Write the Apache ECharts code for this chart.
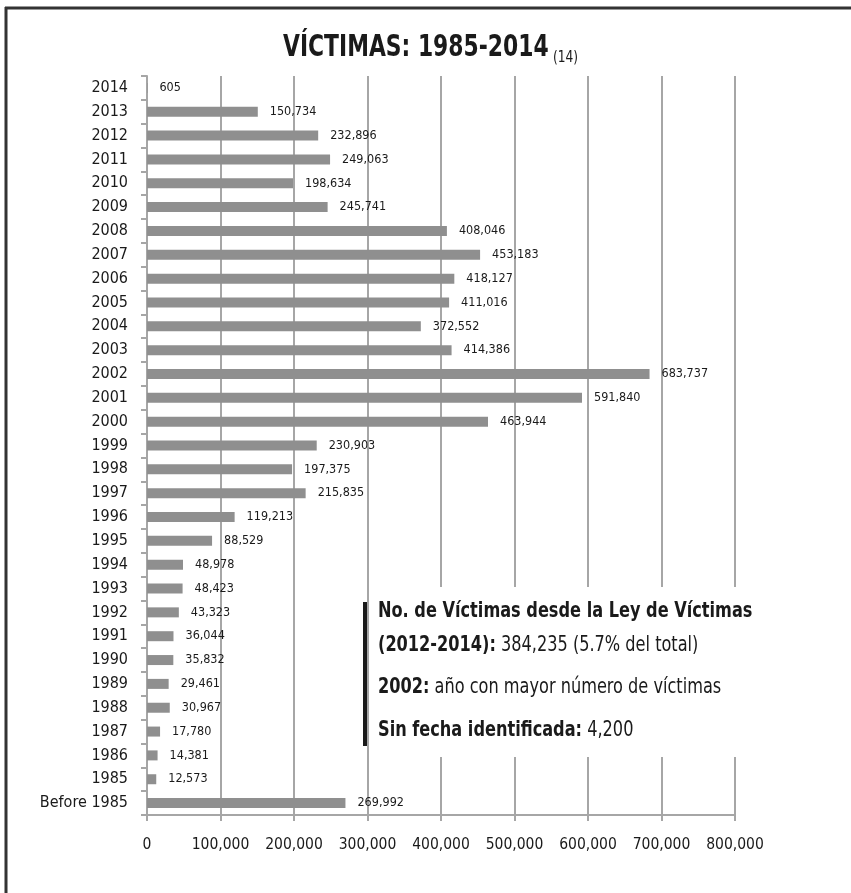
<!DOCTYPE html>
<html>
<head>
<meta charset="utf-8">
<script src="https://cdn.jsdelivr.net/npm/echarts@6/dist/echarts.min.js"></script>
<style>
html,body{margin:0;padding:0;background:#fff;}
#c{width:851px;height:893px;}
</style>
</head>
<body>
<div id="c"></div>
<script>
const categories = ["2014","2013","2012","2011","2010","2009","2008","2007","2006","2005","2004","2003","2002","2001","2000","1999","1998","1997","1996","1995","1994","1993","1992","1991","1990","1989","1988","1987","1986","1985","Before 1985"];
const victims = [605,150734,232896,249063,198634,245741,408046,453183,418127,411016,372552,414386,683737,591840,463944,230903,197375,215835,119213,88529,48978,48423,43323,36044,35832,29461,30967,17780,14381,12573,269992];
const xTicks = [0,100000,200000,300000,400000,500000,600000,700000,800000];
const titleText = "VÍCTIMAS: 1985-2014";
const titleNote = "(14)";

const FONT = "'Liberation Sans Narrow','Arial Narrow','DejaVu Sans Condensed',sans-serif";
const fmt = v => v.toLocaleString('en-US');
const GRID = '#a6a6a6';
const INK = '#1a1a1a';

const chart = echarts.init(document.getElementById('c'), null, {renderer:'canvas'});
const noteRich = {
  b:{fontFamily:FONT, fontWeight:'bold', fontSize:21, fill:INK},
  n:{fontFamily:FONT, fontSize:21, fill:INK}
};
function note(y, text){
  return {type:'text', z:101, x:378, y:y, scaleX:0.855, style:{text:text, verticalAlign:'middle', rich:noteRich}};
}
chart.setOption({
  backgroundColor:'#fff',
  animation:false,
  grid:{left:147, top:76, width:588, height:739, containLabel:false},
  xAxis:{
    type:'value', min:xTicks[0], max:xTicks[xTicks.length-1], interval:100000,
    axisLine:{show:true, lineStyle:{color:GRID, width:2}},
    axisTick:{show:true, length:6, lineStyle:{color:GRID, width:2}},
    splitLine:{show:true, lineStyle:{color:GRID, width:2}},
    axisLabel:{margin:22, color:INK, fontFamily:FONT, fontSize:15.5, formatter:v=>fmt(v)}
  },
  yAxis:{
    type:'category', data:categories, inverse:true,
    axisLine:{show:true, lineStyle:{color:GRID, width:2}},
    axisTick:{show:true, length:6, alignWithLabel:false, lineStyle:{color:GRID, width:2}},
    axisLabel:{margin:19, color:INK, fontFamily:FONT, fontSize:16}
  },
  series:[{
    type:'bar', data:victims, barWidth:10,
    itemStyle:{color:'#8f8f8f'},
    label:{show:true, position:'right', distance:12, color:INK, fontFamily:FONT, fontSize:12.5, formatter:p=>fmt(p.value)}
  }],
  graphic:[
    {type:'line', z:100, shape:{x1:5,y1:8,x2:851,y2:8}, style:{stroke:'#333', lineWidth:3}},
    {type:'line', z:100, shape:{x1:6,y1:7,x2:6,y2:893}, style:{stroke:'#333', lineWidth:3}},
    {type:'text', z:100, x:283, y:48, scaleX:0.81, style:{text:titleText, fontFamily:FONT, fontWeight:'bold', fontSize:30, fill:INK, verticalAlign:'middle', align:'left'}},
    {type:'text', z:100, x:553, y:58, scaleX:0.85, style:{text:titleNote, fontFamily:FONT, fontSize:16, fill:INK, verticalAlign:'middle', align:'left'}},
    {type:'rect', z:100, shape:{x:369,y:587,width:384,height:170}, style:{fill:'#fff'}},
    {type:'rect', z:101, shape:{x:363,y:602,width:4,height:144}, style:{fill:INK}},
    note(612, '{b|No. de Víctimas desde la Ley de Víctimas}'),
    note(646, '{b|(2012-2014):}{n| 384,235 (5.7% del total)}'),
    note(688, '{b|2002:}{n| año con mayor número de víctimas}'),
    note(731, '{b|Sin fecha identificada:}{n| 4,200}')
  ]
});
</script>
</body>
</html>
